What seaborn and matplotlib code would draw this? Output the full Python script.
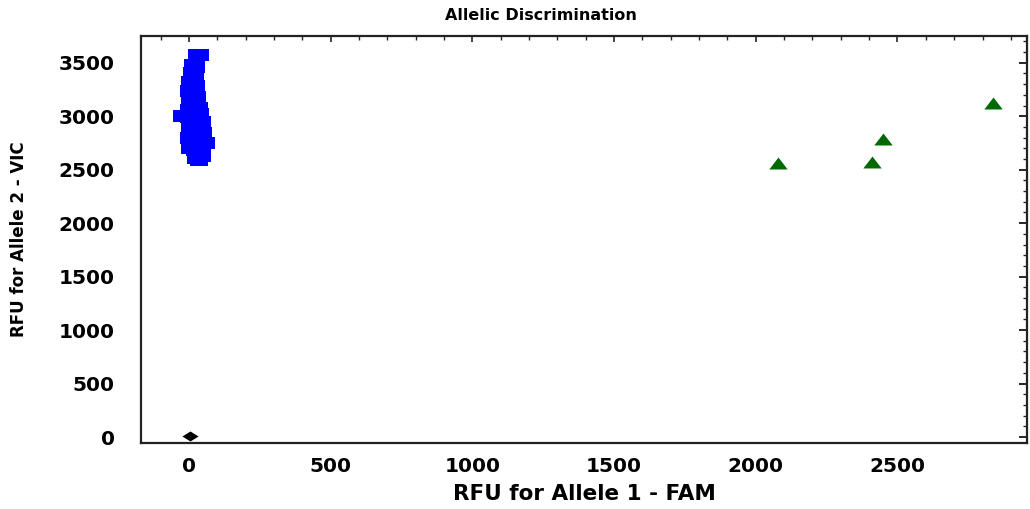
import numpy as np
import pandas as pd
import matplotlib
matplotlib.use("Agg")
import matplotlib.pyplot as plt
import seaborn as sns
from matplotlib.ticker import MultipleLocator

# ==================================================
# DATA
# ==================================================

# Allele 2 homozygotes (blue squares)
fam_blue = [30, 40, 15, 25, 10, 20, 5, 15, 25, 0, 10, 20, 30, 5, 15, 25, 35, 0, 20, 40,
            -25, 0, 10, 30, 45, 5, 20, 35, 50, 0, 15, 30, 10, 25, 60, 40, 5, 20, 45, 25,
            45, 35]
vic_blue = [3570, 3575, 3480, 3460, 3400, 3380, 3320, 3300, 3280, 3240, 3220, 3200, 3180,
            3150, 3120, 3100, 3080, 3060, 3040, 3020, 3000, 2990, 2970, 2960, 2950, 2900,
            2880, 2860, 2840, 2800, 2780, 2760, 2740, 2730, 2750, 2710, 2700, 2680, 2660,
            2610, 2630, 2590]

# Heterozygotes (green triangles)
fam_green = [2079, 2410, 2449, 2837]
vic_green = [2564, 2573, 2789, 3126]

# No template control (black diamond)
fam_ntc = [5]
vic_ntc = [5]

x_ticks = [0, 500, 1000, 1500, 2000, 2500]
y_ticks = [0, 500, 1000, 1500, 2000, 2500, 3000, 3500]

# ==================================================
# STYLE
# ==================================================

sns.set_style("white")
plt.rcParams["font.family"] = ["DejaVu Sans"]
plt.rcParams["font.weight"] = "bold"
plt.rcParams["text.color"] = "black"
plt.rcParams["axes.labelcolor"] = "black"

square = [(-1, -0.65), (1, -0.65), (1, 0.65), (-1, 0.65)]
triangle = [(-1, -0.65), (1, -0.65), (0, 0.65)]
diamond = [(-1, 0), (0, 0.62), (1, 0), (0, -0.62)]

fig = plt.figure(figsize=(10.30, 5.09), dpi=100)
ax = fig.add_axes([141 / 1030, 1 - 443 / 509, (1027 - 141) / 1030, (443 - 36) / 509])

sns.scatterplot(x=fam_blue, y=vic_blue, marker=square, s=150, color="#0000ff",
                linewidth=0, ax=ax)
sns.scatterplot(x=fam_green, y=vic_green, marker=triangle, s=175, color="#006a00",
                linewidth=0, ax=ax)
sns.scatterplot(x=fam_ntc, y=vic_ntc, marker=diamond, s=135, color="black",
                linewidth=0, ax=ax)

ax.set_xlim(-169, 2957)
ax.set_ylim(-56, 3750)

ax.set_xticks(x_ticks)
ax.set_yticks(y_ticks)
ax.xaxis.set_minor_locator(MultipleLocator(100))
ax.yaxis.set_minor_locator(MultipleLocator(100))

ax.tick_params(axis="x", which="major", direction="inout", length=10, width=1.4,
               labelsize=14.5, pad=5, colors="black")
ax.tick_params(axis="x", which="minor", direction="inout", length=4.5, width=1.2)
ax.tick_params(axis="y", which="major", direction="inout", length=14, width=1.4,
               labelsize=14.5, pad=12, colors="black")
ax.tick_params(axis="y", which="minor", direction="inout", length=8, width=1.2)

for lab in ax.get_xticklabels() + ax.get_yticklabels():
    lab.set_fontweight("bold")

# ticks on the top and right edges of the frame
top = ax.secondary_xaxis("top")
top.set_xticks(x_ticks)
top.xaxis.set_minor_locator(MultipleLocator(100))
top.tick_params(which="major", direction="in", length=4, width=1.2, labeltop=False)
top.tick_params(which="minor", direction="in", length=3, width=1.0)
top.spines["top"].set_visible(False)

right = ax.secondary_yaxis("right")
right.set_yticks(y_ticks)
right.yaxis.set_minor_locator(MultipleLocator(100))
right.tick_params(which="major", direction="in", length=6, width=1.4, labelright=False)
right.tick_params(which="minor", direction="in", length=3, width=1.0)
right.spines["right"].set_visible(False)

for sp in ax.spines.values():
    sp.set_visible(True)
    sp.set_linewidth(1.6)
    sp.set_color("#222222")

ax.set_xlabel("RFU for Allele 1 - FAM", fontsize=15.5, fontweight="bold", labelpad=6,
              color="black")
ax.set_ylabel("RFU for Allele 2 - VIC", fontsize=12, fontweight="bold", labelpad=22,
              color="black")
fig.text(541 / 1030, 1 - 16 / 509, "Allelic Discrimination", ha="center", va="center",
         fontsize=11.5, fontweight="bold", color="black")

fig.savefig("out.png", dpi=100)
